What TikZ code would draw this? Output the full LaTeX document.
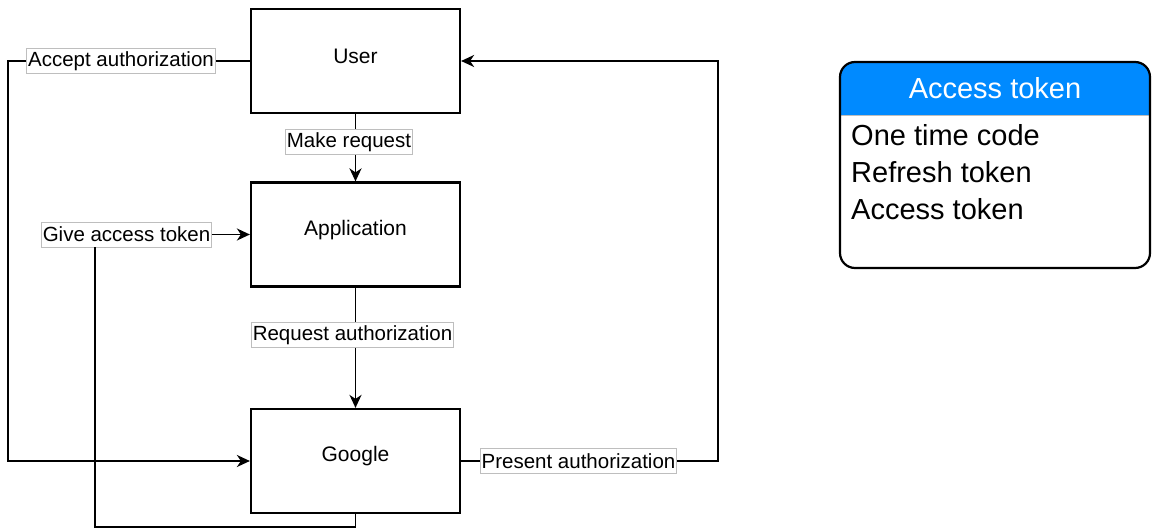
\documentclass[tikz,border=0pt]{standalone}
\usepackage{fontspec}
\setmainfont{Liberation Sans}
\usetikzlibrary{arrows.meta}
\definecolor{hdrblue}{RGB}{0,138,255}
\definecolor{lblgray}{RGB}{190,190,190}
\tikzset{
  box/.style={draw, line width=2.2pt, minimum width=209pt, minimum height=104pt, inner sep=0pt},
  boxtext/.style={font=\fontsize{21}{24}\selectfont, inner sep=0pt},
  lbl/.style={draw=lblgray, line width=0.9pt, fill=white, font=\fontsize{20.5}{24}\selectfont, inner sep=1.5pt, minimum height=25pt},
  conn/.style={line width=1.9pt},
  arr/.style={conn, -{Stealth[length=13pt,width=12pt,inset=4pt]}},
  paneltext/.style={font=\fontsize{29}{32}\selectfont, inner sep=0pt, anchor=west},
}
\begin{document}
\begin{tikzpicture}[x=1pt,y=-1pt]
\useasboundingbox (0,0) rectangle (1152,529);
% boxes
\node[box] (user) at (355.5,61) {};
\node[boxtext] (usert) at (355.5,56) {User};
\node[box] (app) at (355.5,234.5) {};
\node[boxtext] (appt) at (355.5,230) {Application};
\node[box] (google) at (355.5,461) {};
\node[boxtext] (googlet) at (355.5,456) {Google};
% labels
\node[lbl] (acc) at (121,61) {Accept authorization};
\node[lbl] (mk) at (349,142) {Make request};
\node[lbl] (req) at (352.5,335) {Request authorization};
\node[lbl] (pres) at (578.5,461) {Present authorization};
\node[lbl] (gat) at (126.5,234.5) {Give access token};
% helper coordinates
\coordinate (lc) at (8,461);
\coordinate (rc) at (718,61);
\coordinate (b1) at (355.5,527);
\coordinate (b2) at (95,527);
% connectors
\draw[conn] (user.west) -- (acc.east);
\draw[arr] (acc.west) -| (lc) -- (google.west);
\draw[conn] (user.south) -- (user.south |- mk.north);
\draw[arr] (user.south |- mk.south) -- (app.north);
\draw[conn] (app.south) -- (app.south |- req.north);
\draw[arr] (app.south |- req.south) -- (google.north);
\draw[conn] (google.east) -- (pres.west);
\draw[arr] (pres.east) -| (rc) -- (user.east);
\draw[conn] (google.south) -- (b1) -- (b2) -- (b2 |- gat.south);
\draw[arr] (gat.east) -- (app.west);
% panel
\begin{scope}
\clip[rounded corners=15pt] (840,62) rectangle (1150,268);
\fill[hdrblue] (840,62) rectangle (1150,115);
\end{scope}
\draw[lblgray, line width=0.8pt] (840,115) -- (1150,115);
\node[draw, line width=2.2pt, rounded corners=15pt, minimum width=310pt, minimum height=206pt, inner sep=0pt] (panel) at (995,165) {};
\node[font=\fontsize{29}{32}\selectfont, text=white, inner sep=0pt] (hdr) at (995,88) {Access token};
\node[paneltext] (i1) at (851,135) {One time code};
\node[paneltext] (i2) at (851,172) {Refresh token};
\node[paneltext] (i3) at (851,209) {Access token};
\end{tikzpicture}
\end{document}
